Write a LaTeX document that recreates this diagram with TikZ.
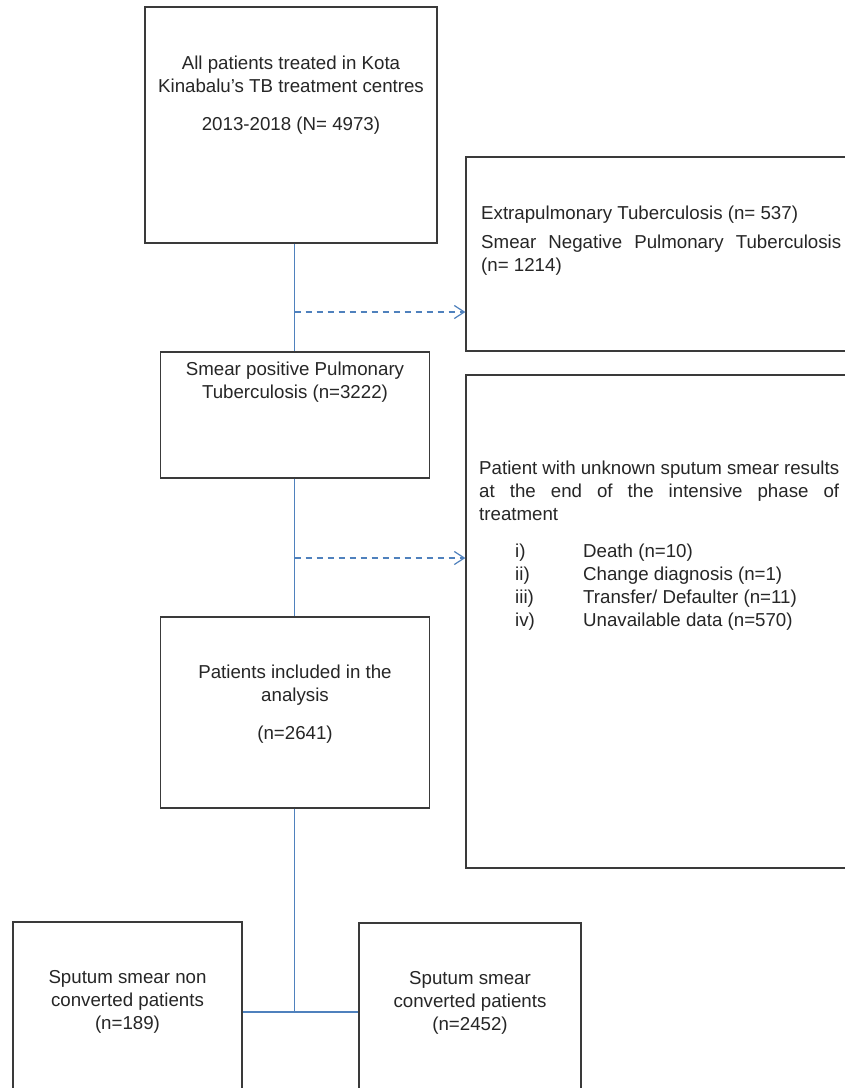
\documentclass[tikz,border=0pt]{standalone}
\usepackage{fontspec}
\setmainfont{Liberation Sans}
\usetikzlibrary{arrows.meta}
\definecolor{boxc}{HTML}{3A3A3A}
\definecolor{txtc}{HTML}{262626}
\definecolor{linec}{HTML}{4F81BD}
\newcommand{\diagfont}{\fontsize{18.7}{23}\selectfont}
\newcommand{\itm}[2]{\hspace*{36pt}\makebox[68pt][l]{#1}#2}
\newcommand{\jline}[1]{\makebox[360pt][s]{#1}}
\begin{document}
\begin{tikzpicture}[x=1pt,y=-1pt,
  box/.style={draw=boxc, line width=1.2pt, inner sep=0pt},
  txt/.style={text=txtc, inner sep=0pt, font=\diagfont},
  ctxt/.style={txt, align=center, anchor=base},
  ltxt/.style={txt, align=left, anchor=base west},
  conn/.style={draw=linec, line width=1.2pt},
  dasharrow/.style={conn, dash pattern=on 6.5pt off 4.5pt, -{Straight Barb[length=10pt,width=13pt,line width=1.2pt]}}]
\useasboundingbox (0,0) rectangle (845,1088);
\fill[white] (0,0) rectangle (845,1088);
\clip (0,0) rectangle (845,1088);

% boxes
\node[box, minimum width=292pt, minimum height=236pt] (b1) at (291,125) {};
\node[box, minimum width=439pt, minimum height=194pt] (r1) at (685.5,254) {};
\node[box, minimum width=269pt, minimum height=126pt] (b3) at (295,415) {};
\node[box, minimum width=439pt, minimum height=493pt] (r2) at (685.5,621.5) {};
\node[box, minimum width=269pt, minimum height=191pt] (b5) at (295,712.5) {};
\node[box, minimum width=229pt, minimum height=228pt] (bl) at (127.5,1036) {};
\node[box, minimum width=222pt, minimum height=227pt] (br) at (470,1036.5) {};

% texts (base = baseline of the last line)
\node[ctxt] (t1a) at (291,92) {All patients treated in Kota\\Kinabalu’s TB treatment centres};
\node[ctxt] (t1b) at (291,130) {2013-2018 (N= 4973)};
\node[ltxt] (tr1a) at (481,219) {Extrapulmonary Tuberculosis (n= 537)};
\node[ltxt] (tr1b) at (481,271) {\jline{Smear Negative Pulmonary Tuberculosis}\\(n= 1214)};
\node[ctxt] (t3) at (295,398) {Smear positive Pulmonary\\Tuberculosis (n=3222)};
\node[ltxt] (tr2a) at (479,520) {\jline{Patient with unknown sputum smear results}\\\jline{at the end of the intensive phase of}\\treatment};
\node[ltxt] (tr2b) at (479,626) {\itm{i)}{Death (n=10)}\\\itm{ii)}{Change diagnosis (n=1)}\\\itm{iii)}{Transfer/ Defaulter (n=11)}\\\itm{iv)}{Unavailable data (n=570)}};
\node[ctxt] (t5a) at (295,701) {Patients included in the\\analysis};
\node[ctxt] (t5b) at (295,739) {(n=2641)};
\node[ctxt] (tl) at (127.5,1029) {Sputum smear non\\converted patients\\(n=189)};
\node[ctxt] (tr) at (470,1030) {Sputum smear\\converted patients\\(n=2452)};

% connectors
\coordinate (d1) at (294.5,312);
\coordinate (d2) at (294.5,558);
\coordinate (j) at (294.5,1012);
\draw[conn] (b1.south -| j) -- (b3.north -| j);
\draw[conn] (b3.south -| j) -- (b5.north -| j);
\draw[conn] (b5.south -| j) -- (j);
\draw[conn] (bl.east |- j) -- (br.west |- j);
\draw[dasharrow] (d1) -- (d1 -| r1.west);
\draw[dasharrow] (d2) -- (d2 -| r2.west);
\end{tikzpicture}
\end{document}
